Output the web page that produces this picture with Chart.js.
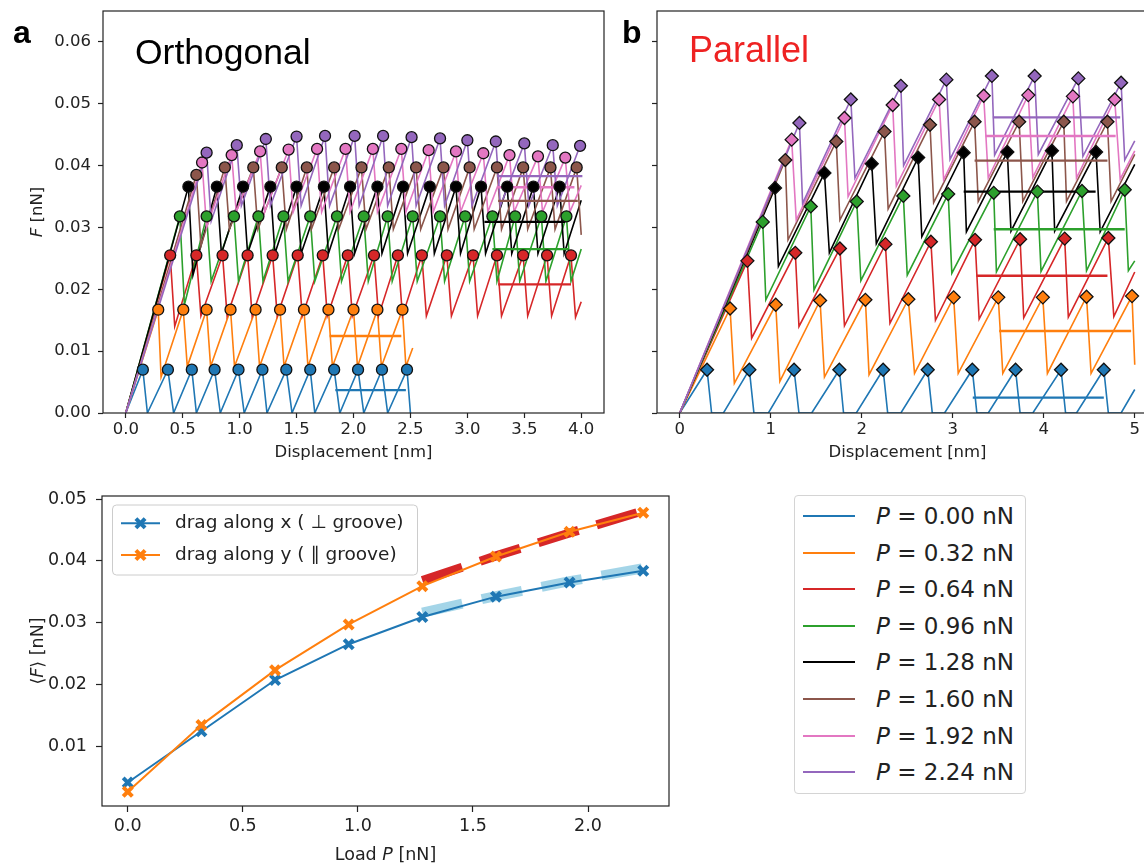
<!DOCTYPE html>
<html>
<head>
<meta charset="utf-8">
<script src="https://cdn.jsdelivr.net/npm/chart.js@4.4.1/dist/chart.umd.min.js"></script>
<style>
  html, body { margin: 0; padding: 0; background: #fff; }
  body { width: 1144px; height: 865px; overflow: hidden; position: relative; }
  canvas { position: absolute; }
  .tag { position: absolute; font-family: "Liberation Sans", Arial, sans-serif; line-height: 1; white-space: nowrap; }
  #legendP { position: absolute; left: 794px; top: 495px; width: 232px; height: 299px;
             border: 1px solid #d4d4d4; border-radius: 4px; box-sizing: border-box; }
  #legendP .row { position: absolute; left: 0; height: 30px; display: flex; align-items: center; transform: translateY(-50%); }
  #legendP .swatch { width: 52px; height: 2px; margin-left: 8px; margin-right: 21px; }
  #legendP .txt { font-family: "DejaVu Sans", sans-serif; font-size: 23px; color: #222; white-space: nowrap; }
</style>
</head>
<body>
<canvas id="chartA" width="620" height="470" style="left:0;top:0"></canvas>
<canvas id="chartB" width="560" height="470" style="left:610px;top:0"></canvas>
<canvas id="chartC" width="700" height="385" style="left:0;top:480px"></canvas>

<div class="tag" style="left:13px;top:16px;font-size:32px;font-weight:bold;color:#000">a</div>
<div class="tag" style="left:622px;top:16px;font-size:32px;font-weight:bold;color:#000">b</div>
<div class="tag" style="left:135px;top:35px;font-size:35.5px;color:#000">Orthogonal</div>
<div class="tag" style="left:689px;top:32px;font-size:36px;color:#ee2222">Parallel</div>
<div id="legendP"></div>

<script>
// ---- shared ----
const loadLabels = ['0.00', '0.32', '0.64', '0.96', '1.28', '1.60', '1.92', '2.24'];
const curveColors = ['#1f77b4', '#ff7f0e', '#d62728', '#2ca02c', '#000000', '#8c564b', '#e377c2', '#9467bd'];

// ---- panel a: orthogonal, [displacement nm, F nN] ----
const orthPeaks0 = [[0.15,0.0070],[0.37,0.0070],[0.58,0.0070],[0.78,0.0070],[0.99,0.0070],[1.20,0.0070],[1.41,0.0070],[1.62,0.0070],[1.83,0.0070],[2.04,0.0070],[2.25,0.0070],[2.47,0.0070]];
const orthDips0 = [[0.19,0],[0.42,0],[0.62,0],[0.83,0],[1.04,0],[1.24,0],[1.46,0],[1.66,0],[1.88,0],[2.09,0],[2.30,0],[2.50,0]];
const orthPeaks1 = [[0.285,0.0167],[0.505,0.0167],[0.71,0.0167],[0.92,0.0167],[1.14,0.0167],[1.355,0.0167],[1.565,0.0167],[1.78,0.0167],[2.00,0.0167],[2.21,0.0167],[2.43,0.0167]];
const orthDips1 = [[0.31,0.0058],[0.54,0.0075],[0.745,0.0075],[0.955,0.0075],[1.175,0.0075],[1.39,0.0075],[1.60,0.0075],[1.815,0.0075],[2.035,0.0075],[2.245,0.0075],[2.46,0.0075],[2.52,0.0105]];
const orthPeaks2 = [[0.39,0.0255],[0.62,0.0255],[0.85,0.0255],[1.07,0.0255],[1.29,0.0255],[1.51,0.0255],[1.73,0.0255],[1.95,0.0255],[2.18,0.0255],[2.39,0.0255],[2.60,0.0255],[2.82,0.0255],[3.05,0.0255],[3.26,0.0255],[3.49,0.0255],[3.70,0.0255],[3.91,0.0255]];
const orthDips2 = [[0.43,0.0140],[0.66,0.0157],[0.89,0.0157],[1.11,0.0157],[1.33,0.0157],[1.55,0.0157],[1.77,0.0157],[1.99,0.0157],[2.22,0.0157],[2.43,0.0157],[2.64,0.0157],[2.86,0.0157],[3.09,0.0157],[3.30,0.0157],[3.53,0.0157],[3.74,0.0157],[3.95,0.0155],[4.00,0.0180]];
const orthPeaks3 = [[0.475,0.0318],[0.71,0.0318],[0.95,0.0318],[1.165,0.0318],[1.385,0.0318],[1.62,0.0318],[1.855,0.0318],[2.09,0.0318],[2.30,0.0318],[2.52,0.0318],[2.76,0.0318],[2.98,0.0318],[3.22,0.0318],[3.42,0.0318],[3.65,0.0318],[3.87,0.0318]];
const orthDips3 = [[0.515,0.0175],[0.75,0.0213],[0.99,0.0213],[1.205,0.0213],[1.425,0.0213],[1.66,0.0213],[1.895,0.0213],[2.13,0.0213],[2.34,0.0213],[2.56,0.0213],[2.80,0.0213],[3.02,0.0213],[3.26,0.0213],[3.46,0.0213],[3.69,0.0213],[3.91,0.0213],[4.00,0.0265]];
const orthPeaks4 = [[0.55,0.0366],[0.80,0.0366],[1.03,0.0366],[1.27,0.0366],[1.50,0.0366],[1.74,0.0366],[1.97,0.0366],[2.21,0.0366],[2.435,0.0366],[2.67,0.0366],[2.90,0.0366],[3.12,0.0366],[3.35,0.0366],[3.58,0.0366],[3.81,0.0366]];
const orthDips4 = [[0.59,0.0223],[0.84,0.0258],[1.07,0.0258],[1.31,0.0258],[1.54,0.0258],[1.78,0.0258],[2.01,0.0258],[2.25,0.0258],[2.475,0.0258],[2.71,0.0258],[2.94,0.0258],[3.16,0.0258],[3.39,0.0258],[3.62,0.0258],[3.85,0.0258],[4.00,0.0344]];
const orthPeaks5 = [[0.62,0.0385],[0.87,0.0397],[1.12,0.0397],[1.37,0.0397],[1.59,0.0397],[1.83,0.0397],[2.07,0.0397],[2.31,0.0397],[2.55,0.0397],[2.79,0.0397],[3.02,0.0397],[3.26,0.0397],[3.49,0.0397],[3.73,0.0397],[3.96,0.0397]];
const orthDips5 = [[0.66,0.0270],[0.91,0.0297],[1.16,0.0297],[1.41,0.0297],[1.63,0.0297],[1.87,0.0297],[2.11,0.0297],[2.35,0.0297],[2.59,0.0297],[2.83,0.0297],[3.06,0.0297],[3.30,0.0297],[3.53,0.0297],[3.77,0.0297],[4.00,0.0288]];
const orthPeaks6 = [[0.67,0.0405],[0.93,0.0417],[1.18,0.0423],[1.43,0.0426],[1.68,0.0427],[1.93,0.0427],[2.17,0.0427],[2.42,0.0427],[2.66,0.0425],[2.90,0.0423],[3.14,0.0420],[3.37,0.0417],[3.62,0.0415],[3.86,0.0413]];
const orthDips6 = [[0.71,0.0300],[0.97,0.0325],[1.22,0.0325],[1.47,0.0325],[1.72,0.0325],[1.97,0.0325],[2.21,0.0325],[2.46,0.0325],[2.70,0.0325],[2.94,0.0325],[3.18,0.0325],[3.41,0.0325],[3.66,0.0325],[3.90,0.0325],[4.00,0.0368]];
const orthPeaks7 = [[0.71,0.0421],[0.975,0.0433],[1.23,0.0443],[1.50,0.0447],[1.75,0.0448],[2.01,0.0448],[2.26,0.0448],[2.51,0.0446],[2.76,0.0444],[3.00,0.0441],[3.25,0.0439],[3.50,0.0436],[3.75,0.0433],[3.99,0.0432]];
const orthDips7 = [[0.75,0.0310],[1.015,0.0335],[1.27,0.0335],[1.54,0.0335],[1.79,0.0335],[2.05,0.0335],[2.30,0.0335],[2.55,0.0335],[2.80,0.0335],[3.04,0.0335],[3.29,0.0335],[3.54,0.0335],[3.79,0.0335]];
const orthMeanF = [0.0037, 0.01245, 0.0208, 0.0265, 0.0309, 0.0343, 0.0365, 0.0383];
const orthMeanFrom = [1.84, 1.79, 3.27, 3.22, 3.15, 3.27, 3.26, 3.26];
const orthMeanTo = [2.46, 2.42, 3.91, 3.89, 3.86, 3.97, 3.94, 4.01];
const orthXTicks = [0, 0.5, 1, 1.5, 2, 2.5, 3, 3.5, 4];
const forceTicks = [0, 0.01, 0.02, 0.03, 0.04, 0.05, 0.06];

// ---- panel b: parallel ----
const paraPeaks0 = [[0.30,0.0070],[0.765,0.0070],[1.256,0.0070],[1.754,0.0070],[2.235,0.0070],[2.725,0.0070],[3.215,0.0070],[3.69,0.0070],[4.19,0.0070],[4.66,0.0070]];
const paraDips0 = [[0.35,0],[0.815,0],[1.31,0],[1.80,0],[2.285,0],[2.775,0],[3.265,0],[3.74,0],[4.24,0],[4.71,0]];
const paraRise0 = [[0.48,0],[0.974,0],[1.45,0],[1.94,0],[2.43,0],[2.91,0],[3.39,0],[3.88,0],[4.36,0],[4.85,0],[5.00,0.0038]];
const paraPeaks1 = [[0.553,0.0169],[1.055,0.0175],[1.542,0.0182],[2.04,0.0183],[2.512,0.0184],[3.01,0.0187],[3.50,0.0187],[3.99,0.0187],[4.47,0.0188],[4.97,0.0189]];
const paraDips1 = [[0.60,0.0048],[1.10,0.0051],[1.59,0.0058],[2.08,0.0062],[2.58,0.0064],[3.06,0.0064],[3.55,0.0064],[4.04,0.0064],[4.52,0.0064],[5.00,0.0078]];
const paraPeaks2 = [[0.743,0.0246],[1.27,0.0259],[1.76,0.0266],[2.26,0.0273],[2.76,0.0277],[3.245,0.0280],[3.74,0.0281],[4.23,0.0282],[4.71,0.0283]];
const paraDips2 = [[0.79,0.0121],[1.31,0.0140],[1.81,0.0141],[2.31,0.0145],[2.81,0.0150],[3.29,0.0152],[3.78,0.0154],[4.27,0.0155],[4.77,0.0156],[5.00,0.0228]];
const paraPeaks3 = [[0.912,0.0309],[1.44,0.0334],[1.945,0.0342],[2.457,0.0351],[2.95,0.0354],[3.45,0.0356],[3.93,0.0358],[4.42,0.0359],[4.89,0.0361]];
const paraDips3 = [[0.946,0.0183],[1.475,0.0199],[1.99,0.0214],[2.50,0.0223],[2.99,0.0226],[3.48,0.0228],[3.97,0.0229],[4.47,0.0230],[4.93,0.0230],[5.00,0.0246]];
const paraPeaks4 = [[1.047,0.0364],[1.59,0.0388],[2.11,0.0403],[2.62,0.0413],[3.12,0.0421],[3.60,0.0422],[4.09,0.0424],[4.575,0.0422]];
const paraDips4 = [[1.084,0.0237],[1.644,0.0259],[2.16,0.0274],[2.66,0.0285],[3.15,0.0293],[3.64,0.0294],[4.12,0.0294],[4.62,0.0293],[5.00,0.0402]];
const paraPeaks5 = [[1.16,0.0409],[1.72,0.0439],[2.25,0.0455],[2.75,0.0466],[3.24,0.0471],[3.73,0.0471],[4.22,0.0471],[4.70,0.0471]];
const paraDips5 = [[1.19,0.0280],[1.76,0.0312],[2.29,0.0330],[2.79,0.0340],[3.28,0.0342],[3.77,0.0342],[4.25,0.0342],[4.74,0.0342],[5.00,0.0418]];
const paraPeaks6 = [[1.23,0.0442],[1.81,0.0477],[2.34,0.0498],[2.85,0.0507],[3.34,0.0513],[3.83,0.0514],[4.32,0.0512],[4.78,0.0507]];
const paraDips6 = [[1.28,0.0312],[1.85,0.0350],[2.38,0.0367],[2.90,0.0377],[3.39,0.0380],[3.88,0.0381],[4.36,0.0380],[4.84,0.0378],[5.00,0.0424]];
const paraPeaks7 = [[1.315,0.0469],[1.88,0.0507],[2.43,0.0529],[2.93,0.0539],[3.43,0.0545],[3.90,0.0545],[4.38,0.0541],[4.85,0.0534]];
const paraDips7 = [[1.35,0.0339],[1.925,0.0380],[2.46,0.0400],[2.97,0.0410],[3.46,0.0417],[3.94,0.0418],[4.43,0.0415],[4.89,0.0409],[5.00,0.0440]];
const paraMeanF = [0.00248, 0.01326, 0.0222, 0.0297, 0.0358, 0.0408, 0.0448, 0.0478];
const paraMeanFrom = [3.22, 3.51, 3.26, 3.45, 3.12, 3.24, 3.36, 3.44];
const paraMeanTo = [4.66, 4.96, 4.70, 4.89, 4.57, 4.70, 4.79, 4.84];
const paraXTicks = [0, 1, 2, 3, 4, 5];

// ---- bottom panel: mean friction vs load ----
const loadP = [0, 0.32, 0.64, 0.96, 1.28, 1.60, 1.92, 2.24];
const dragAlongX = [0.0041, 0.0124, 0.0207, 0.0265, 0.0309, 0.0342, 0.0365, 0.0384];
const dragAlongY = [0.0026, 0.0134, 0.0223, 0.0297, 0.0359, 0.0407, 0.0447, 0.0478];
const fitLoad = [1.28, 1.60, 1.92, 2.24];
const fitAlongY = [0.0368, 0.0408, 0.0445, 0.0481];
const fitAlongX = [0.0316, 0.0343, 0.0367, 0.0388];
const loadTicks = [0, 0.5, 1, 1.5, 2];
const meanTicks = [0.01, 0.02, 0.03, 0.04, 0.05];
const dragLabels = ['drag along x ( \u22A5 groove)', 'drag along y ( \u2225 groove)'];

// ---- helpers ----
const TXT = '#222';
const tickFontA = { family: 'DejaVu Sans', size: 16.5 };
const tickFontC = { family: 'DejaVu Sans', size: 17.5 };

function buildPath(peaks, dips, rises) {
    const pts = [{ x: 0, y: 0 }];
    const n = Math.max(peaks.length, dips.length, rises ? rises.length : 0);
    for (let i = 0; i < n; i++) {
        if (peaks[i]) pts.push({ x: peaks[i][0], y: peaks[i][1] });
        if (dips[i]) pts.push({ x: dips[i][0], y: dips[i][1] });
        if (rises && rises[i]) pts.push({ x: rises[i][0], y: rises[i][1] });
    }
    return pts;
}

function panelDatasets(peaksList, dipsList, risesList, meanF, meanFrom, meanTo, marker, radius) {
    const sets = [];
    peaksList.forEach((pk, i) => {
        sets.push({
            data: buildPath(pk, dipsList[i], risesList[i]),
            showLine: true, borderColor: curveColors[i], borderWidth: 1.6,
            pointRadius: 0, order: 30 - i
        });
        sets.push({
            data: [{ x: meanFrom[i], y: meanF[i] }, { x: meanTo[i], y: meanF[i] }],
            showLine: true, borderColor: curveColors[i], borderWidth: 2.4,
            pointRadius: 0, order: 20 - i
        });
        sets.push({
            data: pk.map(p => ({ x: p[0], y: p[1] })),
            showLine: false, pointStyle: marker, pointRadius: radius,
            pointBackgroundColor: curveColors[i], pointBorderColor: '#111', pointBorderWidth: 1.3,
            order: 10 - i
        });
    });
    return sets;
}

// draws text made of runs, some in italic
function drawRich(ctx, runs, x, y, size, vertical) {
    ctx.save();
    ctx.translate(x, y);
    if (vertical) ctx.rotate(-Math.PI / 2);
    ctx.textBaseline = 'middle';
    ctx.textAlign = 'left';
    ctx.fillStyle = TXT;
    const fontOf = r => (r[1] ? 'italic ' : '') + size + 'px "DejaVu Sans"';
    let w = 0;
    runs.forEach(r => { ctx.font = fontOf(r); w += ctx.measureText(r[0]).width; });
    let cx = -w / 2;
    runs.forEach(r => { ctx.font = fontOf(r); ctx.fillText(r[0], cx, 0); cx += ctx.measureText(r[0]).width; });
    ctx.restore();
}

// box around the plot area and axis titles
function framePlugin(titles) {
    return {
        id: 'frame',
        afterDraw(chart) {
            const { ctx, chartArea: a } = chart;
            ctx.save();
            ctx.strokeStyle = '#222';
            ctx.lineWidth = 1.2;
            ctx.strokeRect(a.left, a.top, a.right - a.left, a.bottom - a.top);
            ctx.restore();
            titles.forEach(t => drawRich(ctx, t.runs, t.x, t.y, t.size, t.vertical));
        }
    };
}

function axis(min, max, ticks, fmt, font, size, pad, tickLen) {
    return {
        type: 'linear', min: min, max: max,
        afterBuildTicks: s => { s.ticks = ticks.map(v => ({ value: v })); },
        afterFit: s => {
            if (s.isHorizontal()) s.height = size; else s.width = size;
            s.paddingTop = 0; s.paddingBottom = 0; s.paddingLeft = 0; s.paddingRight = 0;
        },
        ticks: { callback: fmt, font: font, color: TXT, padding: pad, autoSkip: false, maxRotation: 0 },
        grid: { drawOnChartArea: false, drawTicks: true, tickLength: tickLen, color: '#222', tickWidth: 1.2 },
        border: { display: false }
    };
}

const baseOptions = {
    responsive: false, animation: false, devicePixelRatio: 1, events: [],
    plugins: { legend: { display: false }, tooltip: { enabled: false } }
};

// ---- chart a ----
new Chart(document.getElementById('chartA'), {
    type: 'scatter',
    data: {
        datasets: panelDatasets(
            [orthPeaks0, orthPeaks1, orthPeaks2, orthPeaks3, orthPeaks4, orthPeaks5, orthPeaks6, orthPeaks7],
            [orthDips0, orthDips1, orthDips2, orthDips3, orthDips4, orthDips5, orthDips6, orthDips7],
            [], orthMeanF, orthMeanFrom, orthMeanTo, 'circle', 5.5)
    },
    options: Object.assign({}, baseOptions, {
        layout: { padding: { top: 11, right: 16, left: 0, bottom: 0 } },
        scales: {
            x: axis(-0.2, 4.2, orthXTicks, v => v.toFixed(1), tickFontA, 57, 2, 5),
            y: axis(0, 0.065, forceTicks, v => v.toFixed(2), tickFontA, 103, 7, 5)
        }
    }),
    plugins: [framePlugin([
        { runs: [['F', true], [' [nN]', false]], x: 38, y: 212, size: 16.5, vertical: true },
        { runs: [['Displacement [nm]', false]], x: 353.5, y: 453, size: 16.5 }
    ])]
});

// ---- chart b ----
new Chart(document.getElementById('chartB'), {
    type: 'scatter',
    data: {
        datasets: panelDatasets(
            [paraPeaks0, paraPeaks1, paraPeaks2, paraPeaks3, paraPeaks4, paraPeaks5, paraPeaks6, paraPeaks7],
            [paraDips0, paraDips1, paraDips2, paraDips3, paraDips4, paraDips5, paraDips6, paraDips7],
            [paraRise0], paraMeanF, paraMeanFrom, paraMeanTo, 'rectRot', 6.5)
    },
    options: Object.assign({}, baseOptions, {
        layout: { padding: { top: 11, right: 12.5, left: 0, bottom: 0 } },
        scales: {
            x: axis(-0.25, 5.25, paraXTicks, v => v.toFixed(0), tickFontA, 57, 2, 5),
            y: axis(0, 0.065, forceTicks, () => '', tickFontA, 47, 0, 5)
        }
    }),
    plugins: [framePlugin([
        { runs: [['Displacement [nm]', false]], x: 297.5, y: 453, size: 16.5 }
    ])]
});

// ---- bottom chart ----
const dragLegendPlugin = {
    id: 'dragLegend',
    afterDraw(chart) {
        const ctx = chart.ctx;
        ctx.save();
        ctx.fillStyle = 'rgba(255,255,255,0.85)';
        ctx.strokeStyle = '#cccccc';
        ctx.lineWidth = 1;
        ctx.beginPath();
        ctx.roundRect(112.5, 25, 305, 70, 4);
        ctx.fill();
        ctx.stroke();
        const rowsY = [43.3, 75];
        [curveColors[0], curveColors[1]].forEach((c, i) => {
            const y = rowsY[i];
            ctx.strokeStyle = c;
            ctx.lineWidth = 2;
            ctx.beginPath(); ctx.moveTo(121, y); ctx.lineTo(160, y); ctx.stroke();
            ctx.lineWidth = 4;
            const r = 4.6;
            ctx.beginPath();
            ctx.moveTo(140.5 - r, y - r); ctx.lineTo(140.5 + r, y + r);
            ctx.moveTo(140.5 - r, y + r); ctx.lineTo(140.5 + r, y - r);
            ctx.stroke();
            ctx.fillStyle = TXT;
            ctx.font = '18.5px "DejaVu Sans"';
            ctx.textBaseline = 'middle';
            ctx.textAlign = 'left';
            ctx.fillText(dragLabels[i], 175, y);
        });
        ctx.restore();
    }
};

const xyPts = (xs, ys) => xs.map((x, i) => ({ x: x, y: ys[i] }));

new Chart(document.getElementById('chartC'), {
    type: 'scatter',
    data: {
        datasets: [
            { data: xyPts(fitLoad, fitAlongY), showLine: true, borderColor: '#d62728', borderWidth: 9,
              borderDash: [42, 19], borderCapStyle: 'butt', pointRadius: 0, order: 5 },
            { data: xyPts(fitLoad, fitAlongX), showLine: true, borderColor: 'rgba(125,195,222,0.7)', borderWidth: 10,
              borderDash: [41, 20], borderCapStyle: 'butt', pointRadius: 0, order: 6 },
            { data: xyPts(loadP, dragAlongX), showLine: true, borderColor: curveColors[0], borderWidth: 2,
              pointStyle: 'crossRot', pointRadius: 6.5, pointBorderWidth: 4,
              pointBorderColor: curveColors[0], pointBackgroundColor: curveColors[0], order: 2 },
            { data: xyPts(loadP, dragAlongY), showLine: true, borderColor: curveColors[1], borderWidth: 2,
              pointStyle: 'crossRot', pointRadius: 6.5, pointBorderWidth: 4,
              pointBorderColor: curveColors[1], pointBackgroundColor: curveColors[1], order: 1 }
        ]
    },
    options: Object.assign({}, baseOptions, {
        layout: { padding: { top: 16, right: 31, left: 0, bottom: 0 } },
        scales: {
            x: axis(-0.112, 2.352, loadTicks, v => v.toFixed(1), tickFontC, 59, 4, 6),
            y: axis(0.0003, 0.0505, meanTicks, v => v.toFixed(2), tickFontC, 102, 9, 6)
        }
    }),
    plugins: [framePlugin([
        { runs: [['\u27E8', false], ['F', true], ['\u27E9 [nN]', false]], x: 38, y: 171, size: 17.5, vertical: true },
        { runs: [['Load ', false], ['P', true], [' [nN]', false]], x: 385.5, y: 375, size: 17.5 }
    ]), dragLegendPlugin]
});

// ---- load legend (right) ----
const legendBox = document.getElementById('legendP');
const legendRowY = [20, 56.6, 93.2, 129.8, 166.4, 203, 239.6, 276.2];
loadLabels.forEach((lab, i) => {
    const row = document.createElement('div');
    row.className = 'row';
    row.style.top = legendRowY[i] + 'px';
    row.innerHTML = `<span class="swatch" style="background:${curveColors[i]}"></span>` +
        `<span class="txt"><i>P</i> = ${lab} nN</span>`;
    legendBox.appendChild(row);
});
</script>
</body>
</html>
